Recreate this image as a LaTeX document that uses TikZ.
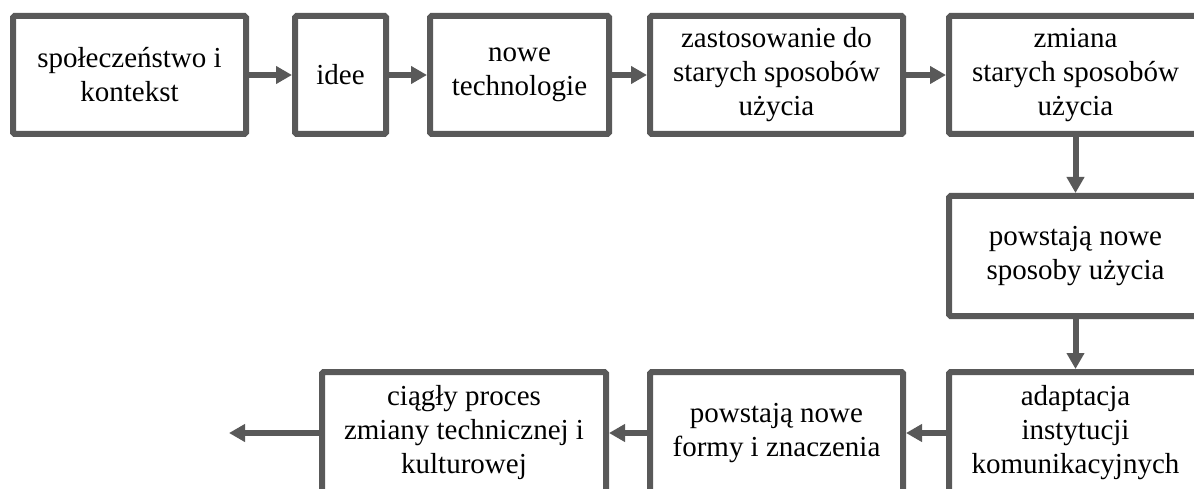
\documentclass[tikz,border=0pt]{standalone}
\usepackage{fontspec}
\setmainfont{Liberation Serif}
\usetikzlibrary{arrows.meta}
\definecolor{edge}{HTML}{595959}
\begin{document}
\begin{tikzpicture}[x=1pt,y=-1pt,
  stage/.style={draw=edge, line width=6pt, rounded corners=1.5pt, fill=white,
    align=center, inner sep=0pt, font=\fontsize{29}{34}\selectfont},
  flow/.style={draw=edge, line width=6pt, -{Triangle[length=16pt,width=17pt]}}]
\useasboundingbox (0,0) rectangle (1194,489);
\clip (0,0) rectangle (1194,489);
% top row
\node[stage, minimum width=233pt, minimum height=118pt] (s1) at (129.5,75) {społeczeństwo i\\kontekst};
\node[stage, minimum width=91pt, minimum height=118pt] (s2) at (340.5,75) {idee};
\node[stage, minimum width=179pt, minimum height=118pt] (s3) at (519.5,75) {nowe\\technologie};
\node[stage, minimum width=253pt, minimum height=118pt] (s4) at (776.5,75) {zastosowanie do\\starych sposobów\\użycia};
\node[stage, minimum width=253pt, minimum height=118pt] (s5) at (1075.5,75) {zmiana\\starych sposobów\\użycia};
% right column
\node[stage, minimum width=253pt, minimum height=120pt] (s6) at (1075.5,256) {powstają nowe\\sposoby użycia};
% bottom row
\node[stage, minimum width=253pt, minimum height=122pt] (s7) at (1075.5,433) {adaptacja\\instytucji\\komunikacyjnych};
\node[stage, minimum width=253pt, minimum height=122pt] (s8) at (776.5,433) {powstają nowe\\formy i znaczenia};
\node[stage, minimum width=284pt, minimum height=122pt] (s9) at (464,433) {ciągły proces\\zmiany technicznej i\\kulturowej};
\coordinate (out) at (229,433);
% connectors
\draw[flow] (s1.east) -- (s2.west);
\draw[flow] (s2.east) -- (s3.west);
\draw[flow] (s3.east) -- (s4.west);
\draw[flow] (s4.east) -- (s5.west);
\draw[flow] (s5.south) -- (s6.north);
\draw[flow] (s6.south) -- (s7.north);
\draw[flow] (s7.west) -- (s8.east);
\draw[flow] (s8.west) -- (s9.east);
\draw[flow] (s9.west) -- (out);
\end{tikzpicture}
\end{document}
